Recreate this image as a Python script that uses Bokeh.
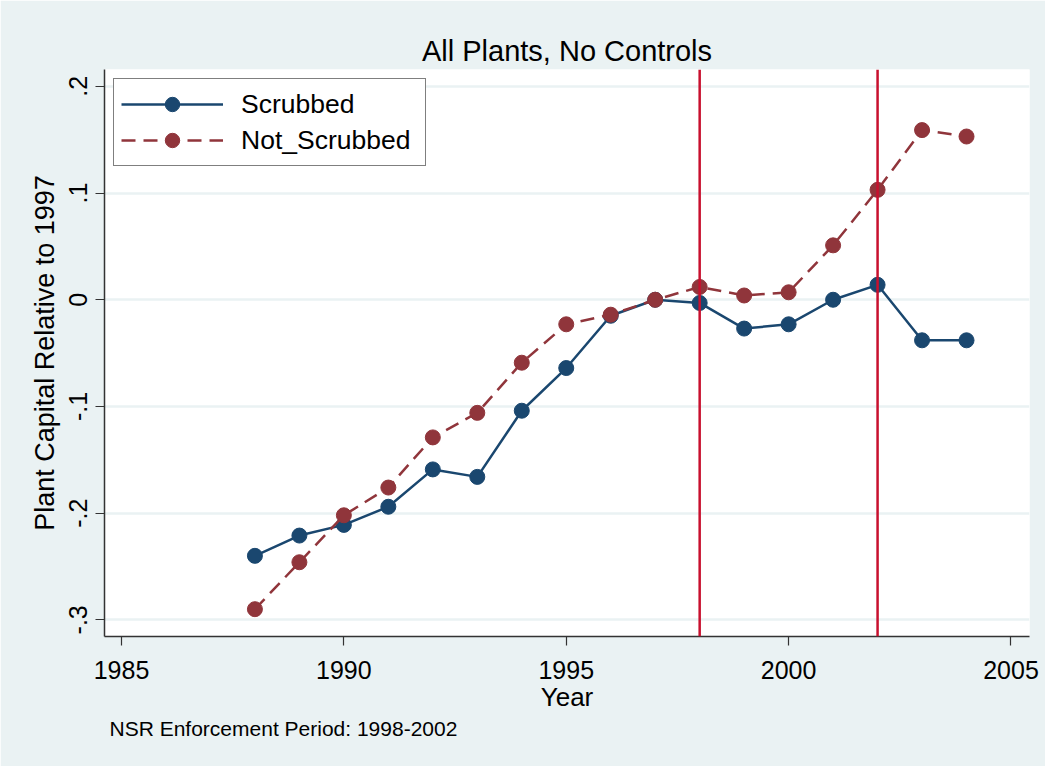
import math
from bokeh.plotting import figure
from bokeh.models import Range1d, FixedTicker, Span, Legend, LegendItem, Title
from bokeh.embed import file_html
from bokeh.resources import INLINE

# ---- data ----
years = [1988, 1989, 1990, 1991, 1992, 1993, 1994, 1995, 1996,
         1997, 1998, 1999, 2000, 2001, 2002, 2003, 2004]
scrubbed = [-0.240, -0.221, -0.211, -0.194, -0.159, -0.166, -0.104, -0.064, -0.015,
            0.000, -0.003, -0.027, -0.023, 0.000, 0.014, -0.038, -0.038]
not_scrubbed = [-0.290, -0.246, -0.202, -0.176, -0.129, -0.106, -0.059, -0.023, -0.014,
                0.000, 0.012, 0.004, 0.007, 0.051, 0.103, 0.159, 0.153]
x_ticks = [1985, 1990, 1995, 2000, 2005]
y_ticks = [-0.3, -0.2, -0.1, 0, 0.1, 0.2]
y_tick_labels = ["-.3", "-.2", "-.1", "0", ".1", ".2"]
enforcement_years = [1998, 2002]
title_text = "All Plants, No Controls"
note_text = "NSR Enforcement Period: 1998-2002"

FONT = "Liberation Sans"
BG = "#EAF2F3"
NAVY = "#1A476F"
MAROON = "#90353B"
RED = "#C8102E"

p = figure(width=1045, height=766,
           x_range=Range1d(1984.618, 2005.416),
           y_range=Range1d(-0.3156, 0.2158),
           output_backend="svg", toolbar_location=None,
           min_border_left=104, min_border_right=16,
           min_border_top=69, min_border_bottom=130,
           background_fill_color="white", border_fill_color=BG,
           outline_line_color=None)

# title
p.title.text = title_text
p.title.align = "center"
p.title.text_font = FONT
p.title.text_font_size = "29px"
p.title.text_font_style = "normal"
p.title.text_color = "black"
p.title.standoff = 5

# axes
p.xaxis.ticker = FixedTicker(ticks=x_ticks)
p.yaxis.ticker = FixedTicker(ticks=y_ticks)
p.yaxis.major_label_overrides = {t: l for t, l in zip(y_ticks, y_tick_labels)}
p.yaxis.major_label_orientation = "parallel"
p.xaxis.axis_label = "Year"
p.yaxis.axis_label = "Plant Capital Relative to 1997"
for ax in (p.xaxis, p.yaxis):
    ax.axis_line_color = "#333333"
    ax.axis_line_width = 1.5
    ax.major_tick_line_color = "#333333"
    ax.major_tick_line_width = 1.2
    ax.major_tick_out = 9
    ax.major_tick_in = 0
    ax.minor_tick_line_color = None
    ax.major_label_text_font = FONT
    ax.major_label_text_font_size = "25px"
    ax.major_label_text_color = "black"
    ax.axis_label_text_font = FONT
    ax.axis_label_text_font_style = "normal"
    ax.axis_label_text_color = "black"
p.xaxis.axis_label_text_font_size = "26px"
p.yaxis.axis_label_text_font_size = "27px"
p.xaxis.major_label_standoff = 15
p.xaxis.axis_label_standoff = 0
p.yaxis.major_label_standoff = 8
p.yaxis.axis_label_standoff = 7

# grid
p.xgrid.grid_line_color = None
p.ygrid.grid_line_color = BG
p.ygrid.grid_line_width = 2.5

# enforcement period lines
for yr in enforcement_years:
    p.add_layout(Span(location=yr, dimension="height", line_color=RED, line_width=2.5))

# series
l1 = p.line(years, scrubbed, line_color=NAVY, line_width=2.5)
s1 = p.scatter(years, scrubbed, size=15, fill_color=NAVY, line_color=NAVY)
l2 = p.line(years, not_scrubbed, line_color=MAROON, line_width=2.5, line_dash="14 8")
s2 = p.scatter(years, not_scrubbed, size=15, fill_color=MAROON, line_color=MAROON)

legend = Legend(items=[LegendItem(label="Scrubbed", renderers=[l1, s1]),
                       LegendItem(label="Not_Scrubbed", renderers=[l2, s2])],
                location="top_left", margin=9, padding=7, spacing=0,
                glyph_width=102, glyph_height=36, label_standoff=18,
                label_width=177,
                label_text_font=FONT, label_text_font_size="26.5px",
                label_text_color="black",
                border_line_color="black", border_line_width=1,
                background_fill_color="white", background_fill_alpha=1.0)
p.add_layout(legend)

# note below
note = Title(text=note_text, align="left", offset=5,
             text_font=FONT, text_font_size="21px", text_font_style="normal",
             text_color="black", standoff=0)
p.add_layout(note, "below")

open("out.html", "w").write(file_html(p, INLINE))
